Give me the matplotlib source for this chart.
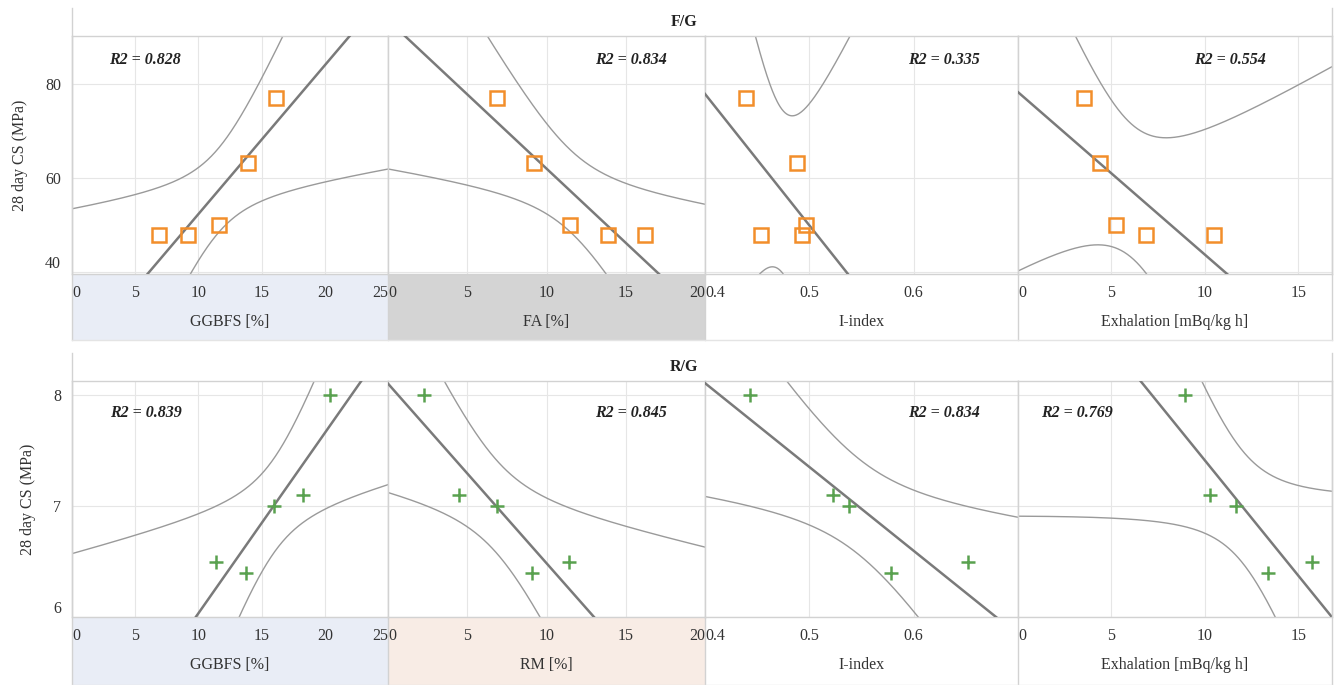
import numpy as np
import matplotlib.pyplot as plt
from matplotlib.patches import Rectangle
from matplotlib.lines import Line2D

plt.rcParams['font.family'] = ['Liberation Serif', 'DejaVu Serif']

# values
cs_fg = [77, 63, 50, 47.7, 47.7]
ggbfs_fg = [16.1, 13.9, 11.6, 9.2, 6.85]
fa_fg = [6.86, 9.19, 11.5, 13.9, 16.2]
iindex_fg = [0.439, 0.488, 0.497, 0.4535, 0.493]
exh_fg = [3.52, 4.37, 5.27, 6.87, 10.48]
r2_fg = ['0.828', '0.834', '0.335', '0.554']

cs_rg = [8.0, 7.1, 7.0, 6.4, 6.5]
ggbfs_rg = [20.4, 18.24, 15.97, 13.73, 11.36]
rm_rg = [2.29, 4.51, 6.88, 9.06, 11.39]
iindex_rg = [0.443, 0.523, 0.538, 0.578, 0.652]
exh_rg = [8.91, 10.26, 11.64, 13.37, 15.75]
r2_rg = ['0.839', '0.845', '0.834', '0.769']

xlabels_fg = ['GGBFS [%]', 'FA [%]', 'I-index', 'Exhalation [mBq/kg h]']
xlabels_rg = ['GGBFS [%]', 'RM [%]', 'I-index', 'Exhalation [mBq/kg h]']
xlims = [(0, 25), (0, 20), (0.4, 0.7), (0, 16.8)]
xticks = [[0, 5, 10, 15, 20, 25], [0, 5, 10, 15, 20], [0.4, 0.5, 0.6], [0, 5, 10, 15]]
xticklabels = [['0', '5', '10', '15', '20', '25'], ['0', '5', '10', '15', '20'],
               ['0.4', '0.5', '0.6'], ['0', '5', '10', '15']]

T95 = 3.182  # t(0.975, 3 dof), n = 5

W, H = 1335, 685
px = [72, 388, 705, 1018, 1332]
GRID = '#E6E6E6'
EDGE = '#D2D2D2'


def fbox(x0, y0, x1, y1):
    return [x0 / W, 1 - y1 / H, (x1 - x0) / W, (y1 - y0) / H]


def fline(fig, x0, y0, x1, y1, color=EDGE, lw=1.0):
    fig.add_artist(Line2D([x0 / W, x1 / W], [1 - y0 / H, 1 - y1 / H],
                          transform=fig.transFigure, color=color, lw=lw, zorder=1))


def fit_band(x, y, xs):
    x = np.asarray(x, float)
    y = np.asarray(y, float)
    b, a = np.polyfit(x, y, 1)
    n = len(x)
    s = np.sqrt(np.sum((y - (a + b * x)) ** 2) / (n - 2))
    sxx = np.sum((x - x.mean()) ** 2)
    half = T95 * s * np.sqrt(1 / n + (xs - x.mean()) ** 2 / sxx)
    line = a + b * xs
    return line, line - half, line + half


fig = plt.figure(figsize=(W / 100, H / 100), dpi=100)

rows = [
    dict(top=8, ptop=36, pbot=274, bot=340, title='F/G', cs=cs_fg,
         xs=[ggbfs_fg, fa_fg, iindex_fg, exh_fg], r2=r2_fg, labels=xlabels_fg,
         ylim=(39.5, 90.1), yticks=[40, 60, 80], marker='s', color='#F28E2B',
         bands=['#E9EDF6', '#D4D4D4', 'white', 'white'],
         r2pos=[(0.117, 'left'), (0.88, 'right'), (0.878, 'right'), (0.79, 'right')], r2y=0.90),
    dict(top=353, ptop=381, pbot=617, bot=685, title='R/G', cs=cs_rg,
         xs=[ggbfs_rg, rm_rg, iindex_rg, exh_rg], r2=r2_rg, labels=xlabels_rg,
         ylim=(6.0, 8.13), yticks=[6, 7, 8], marker='+', color='#59A14F',
         bands=['#E9EDF6', '#F8ECE5', 'white', 'white'],
         r2pos=[(0.12, 'left'), (0.88, 'right'), (0.878, 'right'), (0.073, 'left')], r2y=0.864),
]

for row in rows:
    # band under each plot with the axis title
    for i in range(4):
        fig.add_artist(Rectangle((px[i] / W, 1 - row['bot'] / H),
                                 (px[i + 1] - px[i]) / W, (row['bot'] - row['pbot']) / H,
                                 transform=fig.transFigure, facecolor=row['bands'][i],
                                 edgecolor='none', zorder=0))

    for i in range(4):
        ax = fig.add_axes(fbox(px[i], row['ptop'], px[i + 1], row['pbot']))
        lo, hi = xlims[i]
        grid_x = np.linspace(lo, hi, 400)
        line, low, upp = fit_band(row['xs'][i], row['cs'], grid_x)
        ax.plot(grid_x, upp, color='#9A9A9A', lw=1.0, zorder=2)
        ax.plot(grid_x, low, color='#9A9A9A', lw=1.0, zorder=2)
        ax.plot(grid_x, line, color='#7A7A7A', lw=1.8, zorder=3)
        if row['marker'] == 's':
            ax.plot(row['xs'][i], row['cs'], 's', ms=10, mfc='none',
                    mec=row['color'], mew=1.8, zorder=4)
        else:
            ax.plot(row['xs'][i], row['cs'], '+', ms=10, mec=row['color'],
                    mew=1.8, zorder=4)

        ax.set_xlim(lo, hi)
        ax.set_ylim(*row['ylim'])
        ax.set_xticks(xticks[i])
        ax.set_xticklabels(xticklabels[i], fontsize=11.5, color='#333333')
        labs = ax.get_xticklabels()
        if xticks[i][0] == lo:
            labs[0].set_ha('left')
        if xticks[i][-1] == hi:
            labs[-1].set_ha('right')
        ax.set_yticks(row['yticks'])
        ax.grid(True, color=GRID, lw=0.8)
        ax.set_axisbelow(True)
        ax.tick_params(length=0, pad=8)
        if i == 0:
            ax.set_yticklabels([str(v) for v in row['yticks']], fontsize=11.5, color='#333333')
            ax.get_yticklabels()[0].set_va('bottom')
            ax.set_ylabel('28 day CS (MPa)', fontsize=11.5, color='#333333', labelpad=12)
        else:
            ax.set_yticklabels([])
        ax.set_xlabel(row['labels'][i], fontsize=11.5, color='#333333', labelpad=9)
        for sp in ax.spines.values():
            sp.set_color(EDGE)
            sp.set_linewidth(1.0)

        xr, ha = row['r2pos'][i]
        ax.text(xr, row['r2y'], 'R2 = ' + row['r2'][i], transform=ax.transAxes,
                ha=ha, va='center', fontsize=11.5, fontweight='bold', fontstyle='italic',
                color='#222222')

    # frame lines around header and bands
    fline(fig, px[0], row['top'], px[0], row['bot'])
    fline(fig, px[-1], row['top'], px[-1], row['bot'])
    for xv in px[1:-1]:
        fline(fig, xv, row['pbot'], xv, row['bot'])
    fline(fig, px[0], row['bot'] - 0.5, px[-1], row['bot'] - 0.5, color='#E4E4E4')
    fig.text(684 / W, 1 - (row['top'] + row['ptop']) / 2 / H, row['title'],
             ha='center', va='center', fontsize=11.5, fontweight='bold', color='#222222')

fig.savefig('out.png', dpi=100)
